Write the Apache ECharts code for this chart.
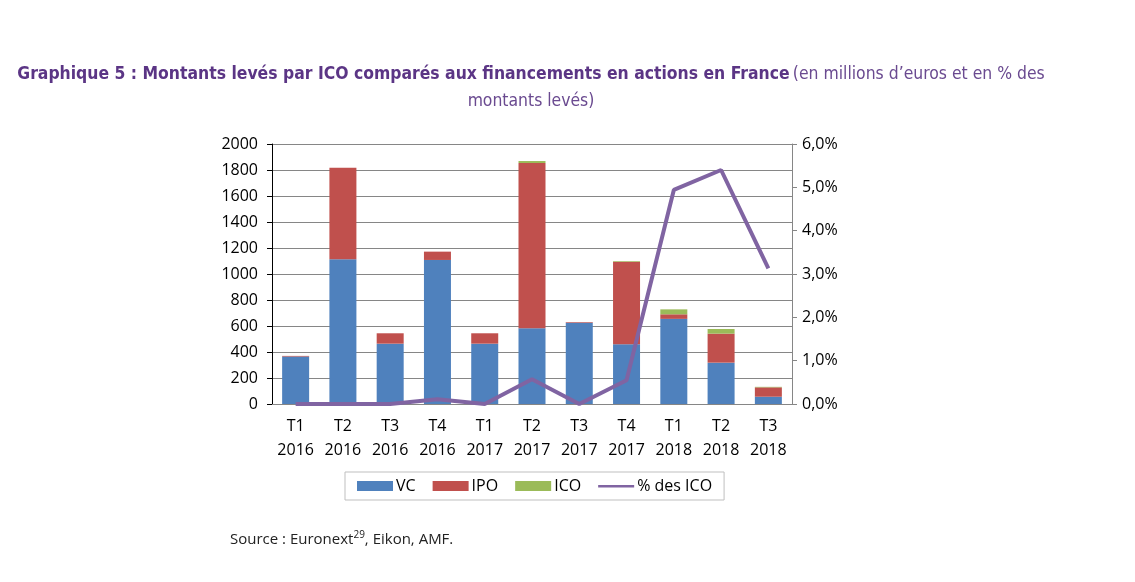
<!DOCTYPE html>
<html lang="fr">
  <head>
    <meta charset="UTF-8" />
    <title>Graphique 5</title>
    <script src="https://cdn.jsdelivr.net/npm/echarts@6/dist/echarts.min.js"></script>
    <style>
      html, body { margin: 0; padding: 0; background: #fff; }
      #chart { width: 1135px; height: 582px; }
    </style>
  </head>
  <body>
    <div id="chart"></div>
    <script>
      // trimestres
      var categories = ["T1\n2016", "T2\n2016", "T3\n2016", "T4\n2016", "T1\n2017", "T2\n2017",
        "T3\n2017", "T4\n2017", "T1\n2018", "T2\n2018", "T3\n2018"];
      // montants en millions d'euros
      var vc = [365, 1113, 464, 1108, 464, 582, 625, 460, 655, 318, 56];
      var ipo = [5, 705, 80, 64, 80, 1272, 5, 635, 35, 223, 72];
      var ico = [0, 0, 0, 0, 0, 15, 0, 5, 38, 36, 4];
      // part des ICO en %
      var pctIco = [0, 0, 0, 0.11, 0, 0.57, 0, 0.55, 4.94, 5.40, 3.13];

      var font = "'Open Sans', 'Noto Sans', sans-serif";
      var narrow = "'Liberation Sans Narrow', 'DejaVu Sans Condensed', 'Liberation Sans', sans-serif";
      var myChart = echarts.init(document.getElementById("chart"));

      var option = {
        animation: false,
        textStyle: { fontFamily: font },
        graphic: [
          {
            type: "text",
            x: 531,
            y: 61,
            style: {
              text: "{b|Graphique 5 : Montants levés par ICO comparés aux financements en actions en France} {n|(en millions d’euros et en % des}\n{n|montants levés)}",
              align: "center",
              rich: {
                b: { fontFamily: narrow, fontSize: 17.4, fontWeight: "bold", fill: "#5b3585", lineHeight: 27 },
                n: { fontFamily: narrow, fontSize: 17.4, fontWeight: "normal", fill: "#6a4a90", lineHeight: 27 }
              }
            }
          },
          {
            type: "text",
            x: 230,
            y: 529,
            style: {
              text: "{s|Source : Euronext}{sup|29}{s|, Eikon, AMF.}",
              rich: {
                s: { fontFamily: font, fontSize: 15, fill: "#222", lineHeight: 22 },
                sup: { fontFamily: font, fontSize: 10, fill: "#222", lineHeight: 22, padding: [0, 0, 10, 0] }
              }
            }
          }
        ],
        legend: {
          left: 345,
          top: 472,
          padding: [6, 12, 6, 12],
          borderColor: "#bfbfbf",
          borderWidth: 1,
          itemGap: 17,
          itemWidth: 36,
          itemHeight: 10,
          textStyle: { fontSize: 16, color: "#000", fontFamily: font, padding: [0, 0, 0, -2] },
          data: [
            { name: "VC", icon: "rect" },
            { name: "IPO", icon: "rect" },
            { name: "ICO", icon: "rect" },
            { name: "% des ICO", icon: "path://M0,0 L0,0 M0,4 L36,4 L36,6.5 L0,6.5 Z M0,10 L0,10" }
          ]
        },
        grid: { left: 272, right: 343, top: 144, bottom: 178, containLabel: false },
        xAxis: {
          type: "category",
          data: categories,
          axisLine: { show: true, lineStyle: { color: "#868686" } },
          axisTick: { show: false },
          axisLabel: { color: "#000", fontSize: 16, lineHeight: 24, margin: 10, interval: 0 }
        },
        yAxis: [
          {
            type: "value",
            min: 0,
            max: 2000,
            interval: 200,
            axisLine: { show: true, lineStyle: { color: "#000" } },
            axisTick: { show: true, length: 5, lineStyle: { color: "#000" } },
            axisLabel: { color: "#000", fontSize: 16, margin: 14, formatter: function (v) { return String(v); } },
            splitLine: { lineStyle: { color: "#868686", width: 1 } }
          },
          {
            type: "value",
            min: 0,
            max: 6,
            interval: 1,
            position: "right",
            axisLine: { show: true, lineStyle: { color: "#868686" } },
            axisTick: { show: true, length: 5, lineStyle: { color: "#868686" } },
            axisLabel: {
              color: "#000",
              fontSize: 16,
              margin: 10,
              formatter: function (v) { return v.toFixed(1).replace(".", ",") + "%"; }
            },
            splitLine: { show: false }
          }
        ],
        series: [
          { name: "VC", type: "bar", stack: "m", data: vc, barWidth: 27, itemStyle: { color: "#4f81bd" } },
          { name: "IPO", type: "bar", stack: "m", data: ipo, itemStyle: { color: "#c0504d" } },
          { name: "ICO", type: "bar", stack: "m", data: ico, itemStyle: { color: "#9bbb59" } },
          {
            name: "% des ICO",
            type: "line",
            yAxisIndex: 1,
            data: pctIco,
            symbol: "none",
            lineStyle: { color: "#8064a2", width: 4 },
            itemStyle: { color: "#8064a2" },
            z: 5
          }
        ]
      };

      myChart.setOption(option);
    </script>
  </body>
</html>
